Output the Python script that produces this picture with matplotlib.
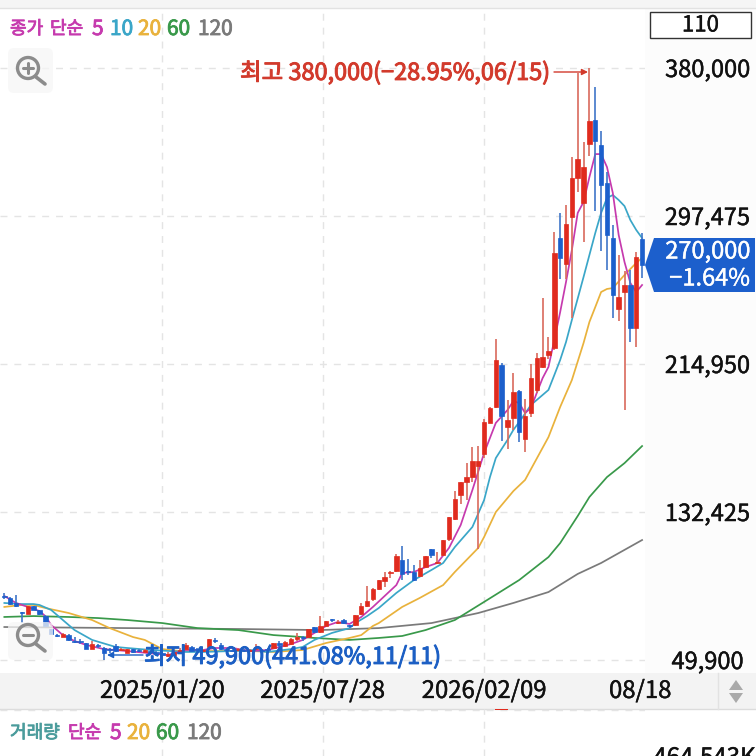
import numpy as np
import matplotlib
matplotlib.use("Agg")
import matplotlib.pyplot as plt
import matplotlib.patheffects as pe
from matplotlib.patches import Rectangle, FancyBboxPatch, Polygon, Circle

plt.rcParams['font.family'] = ['Noto Sans CJK KR', 'DejaVu Sans']

# weekly candles, thousand won
opens = [85.6,84.5,81.7,76.7,75.6,80.0,77.8,74.4,67.2,63.8,
         62.7,63.8,60.5,60.5,59.4,56.0,58.3,56.6,56.0,57.7,
         55.5,53.8,56.0,55.5,54.4,54.9,54.4,53.8,52.1,52.7,
         53.8,56.0,57.2,56.0,54.9,57.2,61.1,58.3,56.0,55.5,
         55.5,55.5,54.9,56.0,55.5,56.0,56.6,59.4,57.7,58.8,
         61.6,62.7,62.7,68.3,65.5,68.9,72.8,70.5,72.2,69.4,
         69.4,75.6,80.0,83.9,89.5,93.9,98.4,99.5,105.7,99.5,
         99.0,96.7,101.7,111.8,104.0,108.5,117.4,128.5,141.9,149.1,
         151.9,158.1,164.8,182.1,191.0,214.4,179.8,184.8,199.9,173.1,
         187.6,200.5,213.3,220.0,223.9,285.2,270.7,296.9,318.7,304.7,
         337.6,351.0,337.1,315.9,285.2,245.6,255.1,259.0,235.0,284.6]
closes = [85.0,81.1,80.0,76.1,80.0,77.8,75.6,68.9,64.4,63.3,
          64.4,61.1,59.9,59.9,56.0,58.8,57.7,53.8,55.5,54.9,
          56.0,56.0,54.4,54.9,55.5,54.4,53.8,52.7,53.3,54.4,
          55.5,58.3,54.9,55.5,55.5,61.6,60.5,56.0,55.5,54.9,
          56.0,54.9,55.5,56.6,54.9,55.5,59.4,58.3,59.9,61.6,
          62.7,62.2,67.2,65.5,68.9,71.6,72.2,71.1,70.5,68.9,
          75.0,80.0,82.8,89.5,94.5,96.2,99.0,107.9,97.9,99.0,
          94.5,101.2,107.9,108.5,104.5,116.8,129.6,139.7,149.1,151.9,
          160.9,160.9,182.6,190.4,217.2,186.0,183.7,199.3,177.1,186.0,
          207.1,218.3,218.9,222.2,276.8,274.1,293.0,318.7,329.3,324.8,
          350.4,339.3,314.8,286.9,253.4,252.3,259.0,235.0,274.6,270.0]
highs = [87.3,85.0,86.2,76.7,80.0,80.0,77.8,75.0,67.2,64.4,
         65.0,64.4,62.7,61.6,59.4,60.5,58.8,57.2,56.6,58.8,
         56.6,56.0,56.0,56.0,56.0,55.5,54.9,54.4,54.4,55.5,
         56.6,59.4,57.7,56.6,56.0,61.6,62.2,59.4,56.6,56.0,
         56.6,56.0,56.0,58.8,56.0,56.6,59.4,60.5,60.5,62.2,
         65.0,63.3,67.2,68.3,74.4,71.6,72.8,72.2,72.8,69.4,
         75.0,81.7,91.2,90.1,94.5,99.0,99.5,109.0,113.5,106.2,
         102.9,105.7,107.9,111.8,110.1,116.8,129.6,144.1,149.1,159.7,
         168.7,169.2,184.3,191.0,228.9,215.5,194.9,209.9,200.5,195.4,
         214.9,221.1,251.7,230.0,288.6,299.2,303.6,330.4,377.2,338.7,
         380.0,369.4,344.9,322.0,292.5,275.7,266.8,267.4,277.4,288.0]
lows = [83.9,80.6,79.5,70.5,75.6,77.8,75.0,68.9,64.4,62.7,
        62.7,60.5,59.4,58.8,56.0,56.0,56.6,49.9,53.8,54.4,
        54.9,53.8,53.8,54.4,53.8,53.3,52.7,52.1,51.6,52.1,
        53.3,55.5,54.4,54.4,54.4,57.2,59.4,55.5,54.9,54.4,
        54.9,54.4,54.4,55.5,54.4,54.4,56.0,57.2,57.2,58.3,
        60.5,60.5,62.7,65.0,65.0,68.9,71.1,70.0,70.0,67.7,
        68.9,75.0,79.5,82.8,88.9,90.6,95.6,99.0,94.5,97.3,
        93.9,96.2,101.2,106.8,103.4,107.9,116.2,128.0,136.9,139.1,
        149.1,111.8,162.5,182.1,190.4,172.0,167.6,178.2,171.5,165.9,
        185.4,198.8,212.7,217.7,222.8,262.3,262.3,240.6,310.9,283.0,
        330.9,300.3,277.9,267.4,240.6,238.9,189.3,227.2,224.4,262.9]

# moving averages: candle index, thousand won
ma5_i = [0,2,4,6,7,8,10,12,14,17,21,28,31,34,36,39,42,45,49,51,53,55,57,59,61,63,65,67,68,70,72,74,76,78,80,82,84,86,87,88,89,90,91,92,93,94,95,96,97,98,99,100,101,102,103,104,105,106,107,108,109]
ma5_v = [85.6,81.7,79.5,77.2,74.4,69.4,63.8,60.5,58.3,56.0,54.9,52.7,55.5,55.5,56.6,56.6,54.9,55.5,58.8,61.1,65.0,68.9,71.1,70.0,73.9,79.5,85.6,91.7,98.4,99.0,101.7,104.0,112.4,125.2,144.7,165.3,182.1,189.3,194.3,193.2,187.6,190.4,198.8,207.1,213.3,228.3,243.9,260.7,278.5,299.2,305.3,319.2,332.0,332.0,324.8,310.3,286.9,271.8,260.1,255.1,259.0]
ma10_i = [0,3,5,6,8,10,12,15,19,21,25,31,34,39,42,45,49,51,53,56,59,60,62,64,67,70,73,75,77,80,82,83,84,85,86,87,88,90,93,94,95,96,97,99,101,102,103,104,105,106,107,108,109]
ma10_v = [81.7,81.1,81.1,80.6,77.8,72.2,66.6,61.1,57.2,56.6,55.5,54.4,54.4,54.9,55.5,54.4,56.0,57.2,61.1,65.0,67.7,70.5,74.4,78.9,87.3,94.5,100.1,104.0,112.9,124.1,139.1,151.9,162.5,167.6,172.6,178.2,182.6,192.1,200.5,208.8,217.2,227.2,239.5,263.5,288.0,299.2,307.5,309.2,306.4,303.0,295.2,289.7,285.2]
ma20_i = [0,3,5,7,11,15,18,22,24,27,30,34,42,46,51,55,59,61,63,64,68,71,75,77,81,82,84,86,87,89,93,95,97,99,100,101,102,103,104,106,108,109]
ma20_v = [79.5,80.6,80.6,78.9,76.1,72.2,67.7,62.7,61.1,56.0,54.9,54.9,54.9,54.4,55.5,59.4,62.2,63.8,68.9,70.5,79.5,84.5,91.7,99.0,112.4,118.5,132.4,140.2,144.1,150.3,174.2,191.0,206.0,226.7,238.4,246.7,255.1,256.8,257.3,264.6,271.3,274.1]
ma60_i = [0,5,11,16,21,27,33,40,46,51,53,59,64,68,72,77,82,88,93,95,98,100,103,106,109]
ma60_v = [73.9,74.4,73.9,73.3,72.2,70.5,67.7,66.6,63.8,62.7,62.2,61.1,62.2,63.3,66.6,72.2,82.3,94.5,107.3,115.1,130.2,140.8,151.9,159.7,169.2]
ma120_i = [0,21,40,54,64,73,81,87,93,98,102,109]
ma120_v = [68.3,67.7,67.2,66.6,67.7,70.5,76.1,81.7,87.8,97.9,104.0,116.8]

y_ticks = [49900, 132425, 214950, 297475, 380000]
x_tick_pos = [27, 54.4, 82, 108.7]
x_tick_labels = ['2025/01/20', '2025/07/28', '2026/02/09', '08/18']
last_price, last_change = '270,000', '−1.64%'
hi_label = '최고 380,000(−28.95%,06/15)'
lo_label = '최저 49,900(441.08%,11/11)'
box_label = '110'
vol_peak_i, vol_peak = [85], [464543]

RED, BLUE = '#e02b1e', '#1c5fcc'
WRED, WBLUE = '#d96a5c', '#3f76c8'
C5, C10, C20, C60, C120 = '#c63aae', '#3aa6c8', '#e9b23c', '#39994a', '#7a7a7a'
W = H = 756
fig = plt.figure(figsize=(7.56, 7.56), dpi=100, facecolor='white')

def rect(l, t, r, b):
    return [l / W, 1 - b / H, (r - l) / W, (b - t) / H]

def heavier(t, col, w=0.45):
    t.set_path_effects([pe.withStroke(linewidth=w, foreground=col)])
    return t

# page background
bg = fig.add_axes([0, 0, 1, 1], zorder=0)
bg.set_xlim(0, W); bg.set_ylim(H, 0); bg.axis('off')
bg.add_patch(Rectangle((0, 0), W, 8, fc='#f5f5f5', ec='none'))
bg.plot([0, W], [8, 8], color='#e2e2e2', lw=1)
bg.add_patch(Rectangle((645, 8), 111, 665, fc='#fcfcfc', ec='none'))
bg.add_patch(Rectangle((0, 673), W, 36, fc='#f3f3f3', ec='none'))
bg.plot([0, W], [709, 709], color='#dcdcdc', lw=1)
bg.plot([718, 718], [673, 709], color='#e2e2e2', lw=1)
bg.add_patch(Polygon([[736, 680], [729, 690], [743, 690]], fc='#a9a9a9', ec='none'))
bg.add_patch(Polygon([[736, 703], [729, 693], [743, 693]], fc='#a9a9a9', ec='none'))

# price panel
ax = fig.add_axes(rect(0, 8, 645, 673), zorder=1)
ax.patch.set_alpha(0)
ax.set_xlim(-0.744, 109.5)
ax.set_ylim(42660, 413460)
for s in ax.spines.values():
    s.set_visible(False)

idx = np.arange(len(opens))
o, c, h, l = [np.array(a) * 1000 for a in (opens, closes, highs, lows)]
up = c >= o
for name_i, name_v, col in [(ma120_i, ma120_v, C120), (ma60_i, ma60_v, C60), (ma20_i, ma20_v, C20),
                            (ma10_i, ma10_v, C10), (ma5_i, ma5_v, C5)]:
    ax.plot(name_i, np.array(name_v) * 1000, color=col, lw=1.25, zorder=3, solid_joinstyle='round')
ax.vlines(idx[up], l[up], h[up], color=WRED, lw=1.2, zorder=4)
ax.vlines(idx[~up], l[~up], h[~up], color=WBLUE, lw=1.2, zorder=4)
ax.bar(idx[up], (c - o)[up], bottom=o[up], width=0.76, color=RED, ec=RED, lw=0.5, zorder=5)
ax.bar(idx[~up], (c - o)[~up], bottom=o[~up], width=0.76, color=BLUE, ec=BLUE, lw=0.5, zorder=5)

ax.yaxis.tick_right()
ax.set_yticks(y_ticks)
ax.set_yticklabels([f'{v:,}' for v in y_ticks], fontsize=17, color='#111111', ha='center')
ax.tick_params(axis='y', length=0, pad=45)
ax.set_xticks(x_tick_pos)
ax.set_xticklabels(x_tick_labels, fontsize=17.2, color='#111111')
ax.tick_params(axis='x', length=0, pad=5)
ax.grid(True, color='#e4e4e4', lw=1, ls=(0, (5, 5)), zorder=0)
ax.set_axisbelow(True)
ax.get_xgridlines()[-1].set_visible(False)
for t in ax.get_xticklabels() + ax.get_yticklabels():
    heavier(t, '#111111', 0.3)

# volume panel, only the tip of it shows
vx = fig.add_axes(rect(0, 709, 645, 756), zorder=1)
vx.patch.set_alpha(0)
vx.set_xlim(ax.get_xlim())
vx.set_ylim(0, 475000)
for s in vx.spines.values():
    s.set_visible(False)
vx.bar(vol_peak_i, [20000], bottom=vol_peak, width=2.2, color=RED)
vx.set_xticks(x_tick_pos[:3]); vx.set_xticklabels([])
vx.set_yticks(vol_peak); vx.set_yticklabels([])
vx.tick_params(length=0)
vx.grid(True, color='#e4e4e4', lw=1, ls=(0, (5, 5)))
vx.set_axisbelow(True)

# overlay
ui = fig.add_axes([0, 0, 1, 1], zorder=2)
ui.patch.set_alpha(0)
ui.set_xlim(0, W); ui.set_ylim(H, 0); ui.axis('off')

def legend(items, y):
    for x, s, col, size in items:
        heavier(ui.text(x, y, s, color=col, fontsize=size, ha='left', va='center'), col, 0.6)

KO, NUM = 13, 15
legend([(10, '종가', C5, KO), (50, '단순', C5, KO), (92, '5', C5, NUM), (110, '10', C10, NUM),
        (138, '20', C20, NUM), (167, '60', C60, NUM), (198, '120', C120, NUM)], 29)
legend([(10, '거래량', '#4b9c9c', KO), (68, '단순', C5, KO), (110, '5', C5, NUM), (127, '20', C20, NUM),
        (156, '60', C60, NUM), (187, '120', C120, NUM)], 733)

ui.add_patch(Rectangle((650, 12), 101, 26, fc='white', ec='#333333', lw=1))
heavier(ui.text(700.5, 25, box_label, fontsize=16, color='#111111', ha='center', va='center'), '#111111', 0.3)

ui.add_patch(Polygon([[645, 265], [654, 238], [755, 238], [755, 292], [654, 292]], fc=BLUE, ec='none'))
heavier(ui.text(750, 252, last_price, fontsize=17, color='white', ha='right', va='center'), 'white', 0.3)
heavier(ui.text(750, 279, last_change, fontsize=17, color='white', ha='right', va='center'), 'white', 0.3)

heavier(ui.text(240, 73, hi_label, fontsize=16.9, color='#d23a2c', ha='left', va='center'), '#d23a2c', 0.7)
ui.annotate('', xy=(588, 72), xytext=(554, 72),
            arrowprops=dict(arrowstyle='-|>', color='#d23a2c', lw=1, mutation_scale=9, shrinkA=0, shrinkB=0))
heavier(ui.text(144, 657, lo_label, fontsize=16.9, color='#1c5fc4', ha='left', va='center'), '#1c5fc4', 0.7)
ui.annotate('', xy=(107, 655), xytext=(143, 655),
            arrowprops=dict(arrowstyle='-|>', color='#1c5fc4', lw=1, mutation_scale=9, shrinkA=0, shrinkB=0))

heavier(ui.text(704.5, 758, '464,543K', fontsize=17.3, color='#111111', ha='center', va='center', clip_on=True), '#111111', 0.3)

def zoom_icon(box_top, box_h, cy, plus):
    ui.add_patch(FancyBboxPatch((12, box_top + 4), 37, box_h - 8, boxstyle='round,pad=4,rounding_size=6',
                                fc='#f6f6f6', ec='none', alpha=0.75))
    ui.add_patch(Circle((28, cy), 10.5, fc='none', ec='#8c8c8c', lw=2.4))
    ui.plot([36, 45], [cy + 9, cy + 16], color='#8c8c8c', lw=2.6, solid_capstyle='round')
    ui.plot([23, 33], [cy, cy], color='#8c8c8c', lw=2.2, solid_capstyle='round')
    if plus:
        ui.plot([28, 28], [cy - 5, cy + 5], color='#8c8c8c', lw=2.2, solid_capstyle='round')

zoom_icon(48, 45, 68, True)
zoom_icon(622, 38, 635, False)

fig.savefig('out.png', dpi=100)
